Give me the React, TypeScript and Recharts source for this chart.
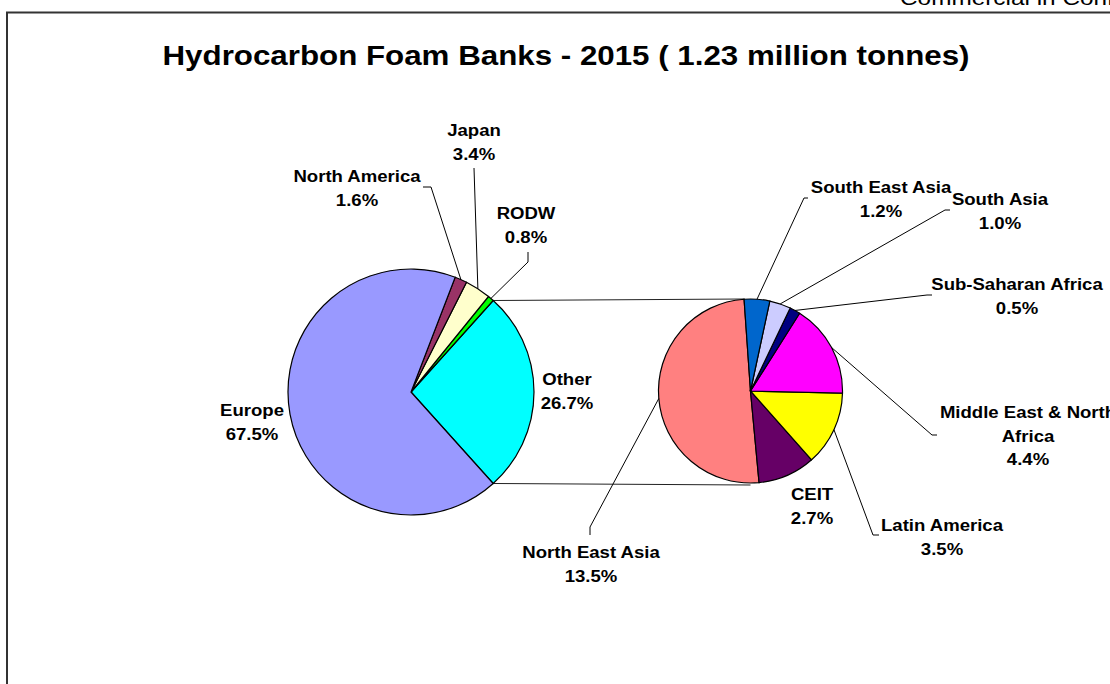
import React from 'react'
import { PieChart, Pie, Cell, Customized } from 'recharts'

// main pie (share of total bank, %)
const mainNames = ['Other', 'RODW', 'Japan', 'North America', 'Europe']
const mainValues = [26.7, 0.8, 3.4, 1.6, 67.5]
const mainColors = ['#00FFFF', '#00FF00', '#FFFFCC', '#993366', '#9999FF']

// breakdown of "Other" (still % of total)
const subNames = ['North East Asia', 'CEIT', 'Latin America', 'Middle East & North Africa', 'Sub-Saharan Africa', 'South Asia', 'South East Asia']
const subValues = [13.5, 2.7, 3.5, 4.4, 0.5, 1.0, 1.2]
const subColors = ['#FF8080', '#660066', '#FFFF00', '#FF00FF', '#000080', '#CCCCFF', '#0066CC']

const W = 1110
const H = 684
const FONT = '"Liberation Sans", Arial, sans-serif'
const STRETCH = 1.16 // the source text is drawn a bit wide

const MAIN = { cx: 411, cy: 392, r: 123 }
const SUB = { cx: 750.5, cy: 391, r: 92 }

// label layout: text lines centre x, first-line centre y, optional leader path (label side first)
type LabelPos = { x: number; y: number; lines?: string[]; leader?: [number, number][] }
const mainLabelPos: Record<string, LabelPos> = {
  Other: { x: 567, y: 379 },
  RODW: { x: 526, y: 213, leader: [[528, 252], [528, 262]] },
  Japan: { x: 474, y: 130, leader: [[474, 168]] },
  'North America': { x: 357, y: 176, leader: [[423, 187], [431, 187]] },
  Europe: { x: 252, y: 410 },
}
const subLabelPos: Record<string, LabelPos> = {
  'North East Asia': { x: 591, y: 552, leader: [[590, 535], [590, 527]] },
  CEIT: { x: 812, y: 494 },
  'Latin America': { x: 942, y: 525, leader: [[879, 535], [873, 535]] },
  'Middle East & North Africa': { x: 1028, y: 412, lines: ['Middle East & North', 'Africa'], leader: [[937, 435], [932, 435]] },
  'Sub-Saharan Africa': { x: 1017, y: 284, leader: [[932, 295], [927, 295]] },
  'South Asia': { x: 1000, y: 199, leader: [[950, 210], [945, 210]] },
  'South East Asia': { x: 881, y: 187, leader: [[808, 198], [804, 198]] },
}

const sum = (a: number[]) => a.reduce((s, v) => s + v, 0)
const otherSpan = (mainValues[0] / sum(mainValues)) * 360
const mainStart = -otherSpan / 2
const subStart = 94

const mainData = mainNames.map((name, i) => ({ name, value: mainValues[i] }))
const subData = subNames.map((name, i) => ({ name, value: subValues[i] }))

const RAD = Math.PI / 180

function WideText({ x, y, size, bold, anchor = 'middle', children }: any) {
  return (
    <text transform={`translate(${x},${y}) scale(${STRETCH},1)`} x={0} y={0}
      textAnchor={anchor} fontFamily={FONT} fontWeight={bold ? 'bold' : 'normal'}
      fontSize={size} fill="#000">
      {children}
    </text>
  )
}

function makeLabel(layout: Record<string, LabelPos>) {
  return (props: any) => {
    const { cx, cy, midAngle, outerRadius, name, value } = props
    const pos = layout[name]
    if (!pos) return null
    const lines = [...(pos.lines ?? [name]), value.toFixed(1) + '%']
    let path = null
    if (pos.leader) {
      const sx = cx + outerRadius * Math.cos(-midAngle * RAD)
      const sy = cy + outerRadius * Math.sin(-midAngle * RAD)
      const pts = [...pos.leader, [sx, sy]]
      path = (
        <polyline
          points={pts.map(p => p.join(',')).join(' ')}
          fill="none" stroke="#000" strokeWidth={1}
        />
      )
    }
    return (
      <g>
        {path}
        {lines.map((t, i) => (
          <WideText key={i} x={pos.x} y={pos.y + i * 23.5 + 6} size={16} bold>
            {t}
          </WideText>
        ))}
      </g>
    )
  }
}

function Overlay() {
  const a = otherSpan / 2
  const tx = MAIN.cx + MAIN.r * Math.cos(a * RAD)
  const ty = MAIN.cy - MAIN.r * Math.sin(a * RAD)
  const by = MAIN.cy + MAIN.r * Math.sin(a * RAD)
  return (
    <g>
      <line x1={tx} y1={ty} x2={SUB.cx - 6} y2={SUB.cy - SUB.r} stroke="#222" strokeWidth={1} />
      <line x1={tx} y1={by} x2={SUB.cx} y2={SUB.cy + SUB.r + 2} stroke="#222" strokeWidth={1} />
      <WideText x={566} y={65} size={27} bold>
        Hydrocarbon Foam Banks - 2015 ( 1.23 million tonnes)
      </WideText>
      <WideText x={900} y={5} size={21} anchor="start">
        Commercial in Confidence
      </WideText>
      <polyline points={`7,${H} 7,12.5 ${W},12.5`} fill="none" stroke="#333" strokeWidth={2} />
    </g>
  )
}

export default function App() {
  return (
    <div style={{ position: 'absolute', left: 0, top: 0, width: W, height: H, background: '#fff' }}>
      <PieChart width={W} height={H} margin={{ top: 0, right: 0, bottom: 0, left: 0 }}>
        <Customized component={Overlay} />
        <Pie
          data={mainData} dataKey="value" nameKey="name"
          cx={MAIN.cx} cy={MAIN.cy} innerRadius={0} outerRadius={MAIN.r}
          startAngle={mainStart} endAngle={mainStart + 360}
          stroke="#000" strokeWidth={1.2}
          label={makeLabel(mainLabelPos)} labelLine={false}
          isAnimationActive={false}
        >
          {mainData.map((d, i) => <Cell key={i} fill={mainColors[i]} />)}
        </Pie>
        <Pie
          data={subData} dataKey="value" nameKey="name"
          cx={SUB.cx} cy={SUB.cy} innerRadius={0} outerRadius={SUB.r}
          startAngle={subStart} endAngle={subStart + 360}
          stroke="#000" strokeWidth={1.2}
          label={makeLabel(subLabelPos)} labelLine={false}
          isAnimationActive={false}
        >
          {subData.map((d, i) => <Cell key={i} fill={subColors[i]} />)}
        </Pie>
      </PieChart>
    </div>
  )
}
